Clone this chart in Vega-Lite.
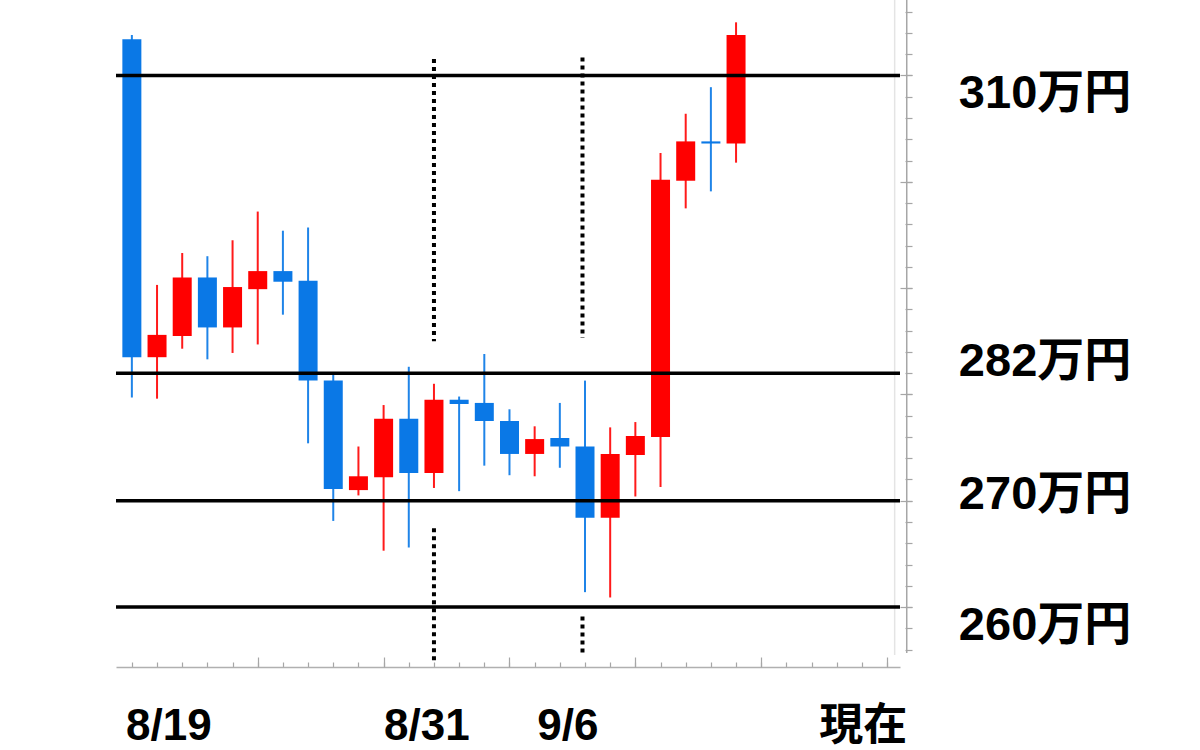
{
  "$schema": "https://vega.github.io/schema/vega-lite/v6.json",
  "width": 784,
  "height": 667,
  "autosize": {"type": "none"},
  "padding": {"left": 116, "top": 0, "right": 300, "bottom": 83},
  "background": "white",
  "config": {
    "view": {"stroke": null},
    "axis": {
      "grid": false,
      "labels": false,
      "title": null,
      "domain": false,
      "tickColor": "#a6a6a6",
      "tickWidth": 1.2
    }
  },
  "datasets": {
    "candles": [
      {"date": "8/19", "day": 0, "open": 313.4, "close": 283.5, "high": 313.8, "low": 279.7},
      {"date": "8/20", "day": 1, "open": 283.5, "close": 285.6, "high": 290.3, "low": 279.6},
      {"date": "8/21", "day": 2, "open": 285.5, "close": 291.0, "high": 293.3, "low": 284.3},
      {"date": "8/22", "day": 3, "open": 291.0, "close": 286.3, "high": 293.0, "low": 283.3},
      {"date": "8/23", "day": 4, "open": 286.3, "close": 290.1, "high": 294.5, "low": 283.9},
      {"date": "8/24", "day": 5, "open": 289.9, "close": 291.6, "high": 297.2, "low": 284.7},
      {"date": "8/25", "day": 6, "open": 291.6, "close": 290.6, "high": 295.4, "low": 287.5},
      {"date": "8/26", "day": 7, "open": 290.7, "close": 281.3, "high": 295.7, "low": 275.4},
      {"date": "8/27", "day": 8, "open": 281.3, "close": 271.1, "high": 282.0, "low": 268.1},
      {"date": "8/28", "day": 9, "open": 271.0, "close": 272.3, "high": 275.1, "low": 270.5},
      {"date": "8/29", "day": 10, "open": 272.2, "close": 277.7, "high": 279.0, "low": 265.3},
      {"date": "8/30", "day": 11, "open": 277.7, "close": 272.6, "high": 282.6, "low": 265.6},
      {"date": "8/31", "day": 12, "open": 272.6, "close": 279.5, "high": 281.0, "low": 271.2},
      {"date": "9/1", "day": 13, "open": 279.5, "close": 279.1, "high": 279.8, "low": 270.9},
      {"date": "9/2", "day": 14, "open": 279.2, "close": 277.5, "high": 283.8, "low": 273.3},
      {"date": "9/3", "day": 15, "open": 277.5, "close": 274.4, "high": 278.6, "low": 272.4},
      {"date": "9/4", "day": 16, "open": 274.4, "close": 275.8, "high": 277.0, "low": 272.3},
      {"date": "9/5", "day": 17, "open": 275.9, "close": 275.1, "high": 279.2, "low": 273.1},
      {"date": "9/6", "day": 18, "open": 275.1, "close": 268.4, "high": 281.3, "low": 261.4},
      {"date": "9/7", "day": 19, "open": 268.4, "close": 274.4, "high": 276.9, "low": 260.9},
      {"date": "9/8", "day": 20, "open": 274.3, "close": 276.1, "high": 277.4, "low": 270.4},
      {"date": "9/9", "day": 21, "open": 276.0, "close": 300.2, "high": 302.7, "low": 271.3},
      {"date": "9/10", "day": 22, "open": 300.1, "close": 303.8, "high": 306.4, "low": 297.5},
      {"date": "9/11", "day": 23, "open": 303.8, "close": 303.6, "high": 308.9, "low": 299.1},
      {"date": "9/12", "day": 24, "open": 303.6, "close": 313.8, "high": 315.0, "low": 301.8}
    ],
    "levels": [
      {"price": 310},
      {"price": 282},
      {"price": 270},
      {"price": 260}
    ],
    "markers": [
      {"day": 12, "top": 311.55, "bottom": 285.0},
      {"day": 12, "top": 267.4, "bottom": 255.0},
      {"day": 17.9, "top": 311.7, "bottom": 285.3},
      {"day": 17.9, "top": 259.1, "bottom": 255.7}
    ],
    "priceLabels": [
      {"text": "310万円", "price": 306.9},
      {"text": "282万円", "price": 281.7},
      {"text": "270万円", "price": 269.2},
      {"text": "260万円", "price": 256.9}
    ],
    "dateLabels": [
      {"text": "8/19", "day": 1.47},
      {"text": "8/31", "day": 11.72},
      {"text": "9/6", "day": 17.32},
      {"text": "現在", "day": 29.05}
    ]
  },
  "resolve": {"axis": {"x": "independent", "y": "independent"}},
  "layer": [
    {
      "data": {"values": [{}]},
      "mark": {"type": "rule", "color": "#e4e4e4", "strokeWidth": 1.5},
      "encoding": {
        "x": {"datum": 30.3, "type": "quantitative", "scale": {"domain": [-0.4314, 30.3137], "nice": false, "zero": false}, "axis": null},
        "y": {"datum": 317.1, "type": "quantitative", "scale": {"domain": [254.36, 317.1], "nice": false, "zero": false}, "axis": null},
        "y2": {"datum": 255.5}
      }
    },
    {
      "data": {"values": [{}]},
      "mark": {"type": "rule", "color": "#a6a6a6", "strokeWidth": 1.5},
      "encoding": {
        "x": {"datum": 30.78, "type": "quantitative", "scale": {"domain": [-0.4314, 30.3137], "nice": false, "zero": false}, "axis": null},
        "y": {"datum": 317.1, "type": "quantitative", "scale": {"domain": [254.36, 317.1], "nice": false, "zero": false}, "axis": null},
        "y2": {"datum": 255.67}
      }
    },
    {
      "data": {"name": "candles"},
      "mark": {"type": "rule", "strokeWidth": 2},
      "encoding": {
        "x": {
          "field": "day",
          "type": "quantitative",
          "scale": {"domain": [-0.4314, 30.3137], "nice": false, "zero": false},
          "axis": {
            "orient": "bottom",
            "values": [0, 1, 2, 3, 4, 5, 6, 7, 8, 9, 10, 11, 12, 13, 14, 15, 16, 17, 18, 19, 20, 21, 22, 23, 24, 25, 26, 27, 28, 29, 30],
            "tickSize": -5,
            "domain": true,
            "domainColor": "#b0b0b0",
            "domainWidth": 1.5
          }
        },
        "y": {
          "field": "low",
          "type": "quantitative",
          "scale": {"domain": [254.36, 317.1], "nice": false, "zero": false},
          "axis": {
            "orient": "right",
            "offset": 12,
            "values": [256, 258, 260, 262, 264, 266, 268, 270, 272, 274, 276, 278, 280, 282, 284, 286, 288, 290, 292, 294, 296, 298, 300, 302, 304, 306, 308, 310, 312, 314, 316],
            "tickSize": -7
          }
        },
        "y2": {"field": "high"},
        "color": {
          "condition": {"test": "datum.close > datum.open", "value": "#ff1a1a"},
          "value": "#1f84e8"
        }
      }
    },
    {
      "data": {"name": "candles"},
      "mark": {"type": "bar", "size": 19},
      "encoding": {
        "x": {
          "field": "day",
          "type": "quantitative",
          "scale": {"domain": [-0.4314, 30.3137], "nice": false, "zero": false},
          "axis": {"orient": "bottom", "values": [5, 10, 15, 20, 25, 30], "tickSize": -10}
        },
        "y": {
          "field": "open",
          "type": "quantitative",
          "scale": {"domain": [254.36, 317.1], "nice": false, "zero": false},
          "axis": {"orient": "right", "offset": 12, "values": [260, 270, 280, 290, 300, 310], "tickSize": -12}
        },
        "y2": {"field": "close"},
        "color": {
          "condition": {"test": "datum.close > datum.open", "value": "#ff0000"},
          "value": "#0a78e6"
        }
      }
    },
    {
      "data": {"name": "markers"},
      "mark": {"type": "rule", "color": "black", "strokeWidth": 4, "strokeDash": [4, 4]},
      "encoding": {
        "x": {"field": "day", "type": "quantitative", "scale": {"domain": [-0.4314, 30.3137], "nice": false, "zero": false}, "axis": null},
        "y": {"field": "top", "type": "quantitative", "scale": {"domain": [254.36, 317.1], "nice": false, "zero": false}, "axis": null},
        "y2": {"field": "bottom"}
      }
    },
    {
      "data": {"name": "levels"},
      "mark": {"type": "rule", "color": "black", "strokeWidth": 3.5},
      "encoding": {
        "y": {"field": "price", "type": "quantitative", "scale": {"domain": [254.36, 317.1], "nice": false, "zero": false}, "axis": null}
      }
    },
    {
      "data": {"name": "priceLabels"},
      "mark": {
        "type": "text",
        "align": "left",
        "baseline": "alphabetic",
        "font": "Liberation Sans, Noto Sans CJK JP",
        "fontWeight": "bold",
        "fontSize": 47,
        "color": "black"
      },
      "encoding": {
        "x": {"datum": 32.85, "type": "quantitative", "scale": {"domain": [-0.4314, 30.3137], "nice": false, "zero": false}, "axis": null},
        "y": {"field": "price", "type": "quantitative", "scale": {"domain": [254.36, 317.1], "nice": false, "zero": false}, "axis": null},
        "text": {"field": "text"}
      }
    },
    {
      "data": {"name": "dateLabels"},
      "mark": {
        "type": "text",
        "align": "center",
        "baseline": "alphabetic",
        "font": "Liberation Sans, Noto Sans CJK JP",
        "fontWeight": "bold",
        "fontSize": 44,
        "color": "black"
      },
      "encoding": {
        "x": {"field": "day", "type": "quantitative", "scale": {"domain": [-0.4314, 30.3137], "nice": false, "zero": false}, "axis": null},
        "y": {"datum": 247.5, "type": "quantitative", "scale": {"domain": [254.36, 317.1], "nice": false, "zero": false}, "axis": null},
        "text": {"field": "text"}
      }
    }
  ]
}
